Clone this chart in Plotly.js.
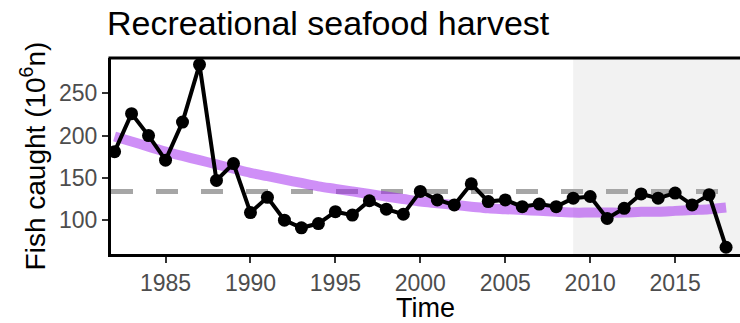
<!DOCTYPE html>
<html>
<head>
<meta charset="utf-8">
<script src="https://cdn.plot.ly/plotly-3.0.1.min.js"></script>
<style>html,body{margin:0;padding:0;background:#fff}#chart{width:740px;height:323px}</style>
</head>
<body>
<div id="chart"></div>
<script>
const years = [1982,1983,1984,1985,1986,1987,1988,1989,1990,1991,1992,1993,1994,1995,1996,1997,1998,1999,2000,2001,2002,2003,2004,2005,2006,2007,2008,2009,2010,2011,2012,2013,2014,2015,2016,2017,2018];
const caught = [181,226,200,171,216,284,147,167,109,127,100,91,96,110,106,123,113,107,134,124,118,143,122,124,116,119,116,126,128,102,114,131,126,132,118,130,68];
const trend = [199,193,187,181,176,171,166,161,156,152,148,144,140,137,134,131,128,125,122,120,118,116,114,113,112,111,110,109,109,109,109,110,110,111,112,113,115];
const meanLevel = 134;
const shadeStart = 2009;
const xTicks = [1985,1990,1995,2000,2005,2010,2015];
const yTicks = [100,150,200,250];

const FONT = "Liberation Sans, Arial, sans-serif";

const traces = [
  {x: years, y: trend, mode: 'lines', line: {color: 'rgba(160,32,240,0.5)', width: 10, shape: 'spline'}, hoverinfo: 'skip'},
  {x: years, y: caught, mode: 'lines+markers', line: {color: '#000', width: 4}, marker: {color: '#000', size: 13}, cliponaxis: false}
];

const layout = {
  width: 740, height: 323,
  margin: {l: 111, r: 0, t: 58, b: 69},
  paper_bgcolor: '#fff', plot_bgcolor: '#fff',
  showlegend: false,
  font: {family: FONT},
  title: {text: 'Recreational seafood harvest', font: {size: 34, color: '#000', family: FONT}, x: 0, xref: 'container', xanchor: 'left', pad: {l: 107}, y: 0.965, yref: 'container', yanchor: 'top'},
  xaxis: {
    range: [1981.79, 2018.82], tickvals: xTicks, ticktext: xTicks.map(String),
    showgrid: false, zeroline: false, showline: true, linecolor: '#000', linewidth: 3,
    ticks: 'outside', ticklen: 6, tickwidth: 2, tickcolor: '#333',
    tickfont: {size: 23, color: '#4d4d4d', family: FONT},
    title: {text: 'Time', font: {size: 27, color: '#000', family: FONT}, standoff: 3}
  },
  yaxis: {
    range: [60, 291.8], tickvals: yTicks, ticktext: yTicks.map(String),
    showgrid: false, zeroline: false, showline: true, linecolor: '#000', linewidth: 3,
    ticks: 'outside', ticklen: 6, tickwidth: 2, tickcolor: '#333',
    tickfont: {size: 23, color: '#4d4d4d', family: FONT},
    title: {text: 'Fish caught (10<sup>6</sup>n)', font: {size: 28, color: '#000', family: FONT}, standoff: 6}
  },
  shapes: [
    {type: 'rect', xref: 'x', yref: 'paper', x0: shadeStart, x1: 2018.82, y0: 0, y1: 1, fillcolor: '#f2f2f2', line: {width: 0}, layer: 'below'},
    {type: 'line', xref: 'paper', yref: 'y', x0: 0, x1: 1, y0: meanLevel, y1: meanLevel, line: {color: '#a6a6a6', width: 5, dash: '22px,23px'}, layer: 'below'},
    {type: 'line', xref: 'paper', yref: 'paper', x0: -0.004, x1: 1, y0: 1, y1: 1, line: {color: '#000', width: 3}}
  ]
};

Plotly.newPlot('chart', traces, layout, {staticPlot: true, displayModeBar: false});
</script>
</body>
</html>
